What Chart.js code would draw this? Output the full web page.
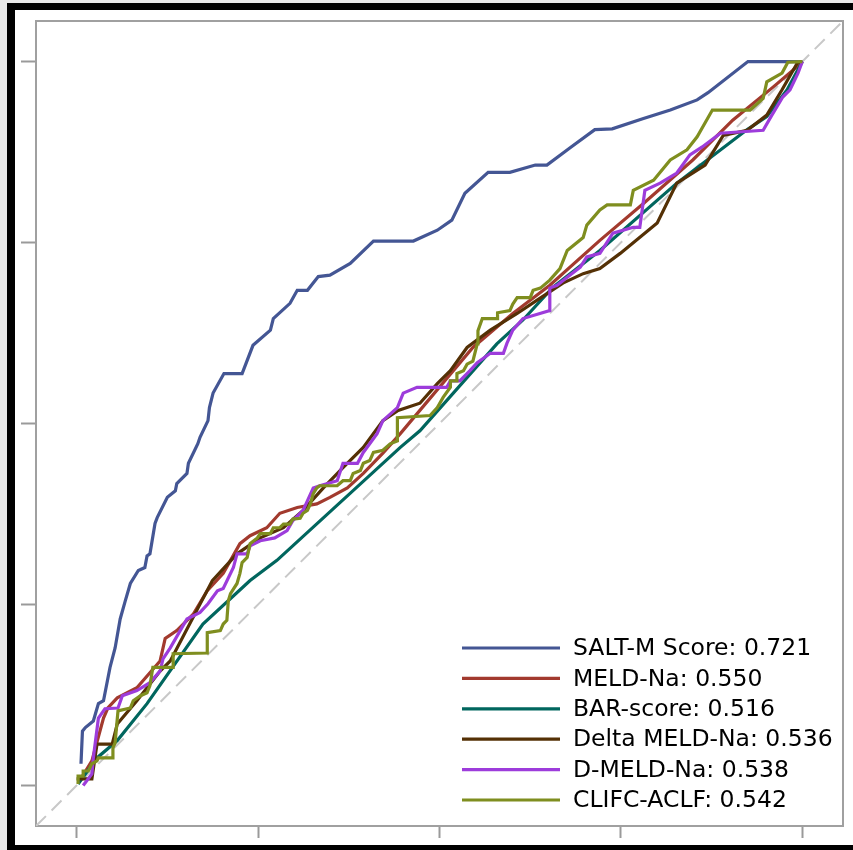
<!DOCTYPE html>
<html lang="en">
<head>
    <meta charset="UTF-8">
    <title>ROC curves</title>
    <script src="https://cdn.jsdelivr.net/npm/chart.js"></script>
    <style>
        html, body { margin: 0; padding: 0; background: #e8e8e8; overflow: hidden; }
        .frame {
            position: absolute; left: 7px; top: 3px;
            width: 900px; height: 835px;
            border-left: 8px solid #000; border-top: 7px solid #000; border-bottom: 7px solid #000;
            background: #fff;
        }
        #roc { position: absolute; left: 0; top: 0; }
    </style>
</head>
<body>
    <div class="frame"></div>
    <canvas id="roc" width="853" height="850"></canvas>

    <script>
        // ROC points as [1 - specificity, sensitivity]
        const saltM = [[0.006,0.030],[0.008,0.075],[0.012,0.080],[0.023,0.089],[0.030,0.113],[0.037,0.117],[0.046,0.163],[0.053,0.190],[0.060,0.230],[0.067,0.255],[0.074,0.279],[0.085,0.297],[0.094,0.301],[0.097,0.317],[0.101,0.320],[0.108,0.362],[0.111,0.370],[0.125,0.398],[0.136,0.407],[0.138,0.417],[0.152,0.431],[0.154,0.445],[0.167,0.472],[0.170,0.481],[0.181,0.504],[0.183,0.522],[0.188,0.542],[0.203,0.569],[0.228,0.569],[0.243,0.608],[0.267,0.629],[0.271,0.645],[0.294,0.666],[0.304,0.684],[0.318,0.684],[0.333,0.703],[0.349,0.705],[0.377,0.721],[0.409,0.752],[0.464,0.752],[0.497,0.767],[0.517,0.781],[0.535,0.818],[0.567,0.847],[0.597,0.847],[0.632,0.857],[0.648,0.857],[0.680,0.881],[0.714,0.906],[0.738,0.907],[0.780,0.921],[0.818,0.933],[0.855,0.947],[0.870,0.957],[0.925,1.0],[1.0,1.0]];
        const meldNa = [[0.002,0.003],[0.021,0.034],[0.037,0.093],[0.043,0.107],[0.056,0.121],[0.083,0.135],[0.115,0.172],[0.122,0.203],[0.138,0.214],[0.161,0.237],[0.180,0.269],[0.202,0.293],[0.225,0.334],[0.239,0.345],[0.262,0.356],[0.280,0.376],[0.304,0.384],[0.331,0.389],[0.349,0.398],[0.373,0.411],[0.395,0.431],[0.422,0.459],[0.446,0.486],[0.546,0.605],[0.601,0.652],[0.652,0.691],[0.721,0.753],[0.781,0.804],[0.849,0.864],[0.904,0.919],[0.960,0.965],[0.987,0.988],[1.0,1.0]];
        const barScore = [[0.002,0.002],[0.028,0.038],[0.056,0.062],[0.097,0.113],[0.174,0.223],[0.239,0.283],[0.276,0.311],[0.446,0.467],[0.473,0.490],[0.579,0.610],[0.615,0.643],[0.656,0.688],[0.721,0.739],[0.827,0.832],[0.924,0.906],[0.951,0.924],[0.979,0.961],[1.0,1.0]];
        const deltaMeld = [[0.0,0.009],[0.021,0.009],[0.028,0.057],[0.049,0.057],[0.056,0.085],[0.083,0.117],[0.115,0.158],[0.129,0.172],[0.187,0.283],[0.221,0.320],[0.253,0.342],[0.285,0.356],[0.312,0.380],[0.340,0.411],[0.367,0.439],[0.395,0.467],[0.422,0.504],[0.443,0.518],[0.473,0.528],[0.497,0.555],[0.515,0.573],[0.538,0.605],[0.570,0.629],[0.607,0.652],[0.634,0.670],[0.670,0.694],[0.698,0.707],[0.721,0.714],[0.749,0.735],[0.800,0.777],[0.827,0.832],[0.866,0.857],[0.891,0.898],[0.924,0.905],[0.951,0.926],[0.972,0.961],[0.993,0.998],[1.0,1.0]];
        const dMeld = [[0.009,0.0],[0.021,0.016],[0.023,0.038],[0.030,0.093],[0.039,0.106],[0.057,0.107],[0.063,0.124],[0.083,0.131],[0.101,0.142],[0.115,0.158],[0.119,0.175],[0.129,0.190],[0.152,0.230],[0.170,0.239],[0.181,0.251],[0.194,0.269],[0.202,0.272],[0.216,0.301],[0.221,0.320],[0.235,0.320],[0.239,0.331],[0.253,0.338],[0.273,0.342],[0.290,0.352],[0.298,0.366],[0.312,0.380],[0.326,0.411],[0.335,0.414],[0.359,0.421],[0.367,0.445],[0.387,0.445],[0.395,0.460],[0.414,0.486],[0.422,0.504],[0.442,0.522],[0.450,0.542],[0.469,0.550],[0.510,0.550],[0.515,0.559],[0.528,0.559],[0.542,0.573],[0.552,0.584],[0.570,0.597],[0.588,0.597],[0.593,0.611],[0.601,0.629],[0.615,0.645],[0.652,0.656],[0.652,0.687],[0.662,0.691],[0.676,0.702],[0.694,0.716],[0.703,0.730],[0.721,0.735],[0.739,0.763],[0.767,0.771],[0.776,0.771],[0.783,0.822],[0.804,0.832],[0.827,0.846],[0.845,0.871],[0.862,0.882],[0.887,0.901],[0.946,0.905],[0.958,0.926],[0.973,0.951],[0.983,0.961],[0.994,0.984],[1.0,1.0]];
        const clifcAclf = [[0.002,0.002],[0.002,0.013],[0.009,0.013],[0.009,0.020],[0.016,0.020],[0.021,0.030],[0.028,0.034],[0.030,0.038],[0.049,0.038],[0.050,0.052],[0.053,0.059],[0.057,0.103],[0.074,0.107],[0.078,0.117],[0.088,0.124],[0.097,0.128],[0.101,0.138],[0.105,0.163],[0.133,0.163],[0.133,0.182],[0.180,0.183],[0.180,0.211],[0.198,0.214],[0.202,0.223],[0.207,0.228],[0.209,0.255],[0.212,0.265],[0.221,0.279],[0.225,0.293],[0.228,0.308],[0.235,0.315],[0.239,0.334],[0.249,0.342],[0.253,0.348],[0.267,0.348],[0.271,0.356],[0.280,0.356],[0.285,0.361],[0.294,0.361],[0.298,0.368],[0.308,0.369],[0.312,0.376],[0.318,0.380],[0.322,0.389],[0.326,0.403],[0.331,0.411],[0.335,0.414],[0.359,0.414],[0.367,0.421],[0.377,0.421],[0.381,0.431],[0.391,0.435],[0.395,0.445],[0.404,0.449],[0.409,0.460],[0.422,0.463],[0.432,0.472],[0.442,0.476],[0.442,0.508],[0.487,0.511],[0.497,0.522],[0.505,0.536],[0.515,0.550],[0.515,0.559],[0.524,0.559],[0.524,0.569],[0.533,0.573],[0.538,0.582],[0.546,0.586],[0.552,0.610],[0.553,0.628],[0.559,0.645],[0.580,0.645],[0.580,0.653],[0.597,0.656],[0.601,0.665],[0.607,0.674],[0.625,0.674],[0.629,0.684],[0.639,0.687],[0.652,0.698],[0.666,0.714],[0.676,0.739],[0.698,0.757],[0.703,0.774],[0.721,0.795],[0.731,0.802],[0.763,0.802],[0.767,0.822],[0.795,0.836],[0.818,0.864],[0.841,0.878],[0.855,0.896],[0.876,0.933],[0.928,0.933],[0.946,0.949],[0.951,0.972],[0.972,0.984],[0.980,0.999],[1.0,1.0]];

        const seriesNames = ['SALT-M Score', 'MELD-Na', 'BAR-score', 'Delta MELD-Na', 'D-MELD-Na', 'CLIFC-ACLF'];
        const aucValues = ['0.721', '0.550', '0.516', '0.536', '0.538', '0.542'];
        const seriesColors = ['#445694', '#A23A2E', '#01665E', '#543005', '#9D3CDB', '#7F8E1F'];
        const seriesPoints = [saltM, meldNa, barScore, deltaMeld, dMeld, clifcAclf];
        const tickValues = [0, 0.25, 0.5, 0.75, 1];
        const axisMin = -0.056, axisMax = 1.056;

        const datasets = seriesPoints.map((pts, i) => ({
            label: seriesNames[i] + ': ' + aucValues[i],
            data: pts.map(p => ({ x: p[0], y: p[1] })),
            borderColor: seriesColors[i],
            borderWidth: 3.2,
            pointRadius: 0,
            tension: 0,
            order: seriesPoints.length - i,
            inLegend: true
        }));
        // reference diagonal
        datasets.push({
            label: 'diag',
            data: [{ x: axisMin, y: axisMin }, { x: axisMax, y: axisMax }],
            borderColor: '#c8c8c8',
            borderWidth: 2,
            borderDash: [14, 8],
            pointRadius: 0,
            order: 20,
            inLegend: false
        });

        // grey box round the plot area
        const framePlugin = {
            id: 'frame',
            beforeDatasetsDraw(chart) {
                const { ctx, chartArea: a } = chart;
                ctx.save();
                ctx.strokeStyle = '#a0a0a0';
                ctx.lineWidth = 2;
                ctx.strokeRect(a.left, a.top, a.right - a.left, a.bottom - a.top);
                ctx.restore();
            }
        };

        // legend inside the plot, lower right
        const insideLegend = {
            id: 'insideLegend',
            afterDraw(chart) {
                const ctx = chart.ctx;
                const items = chart.data.datasets.filter(d => d.inLegend);
                ctx.save();
                ctx.font = '23.5px "DejaVu Sans"';
                ctx.textBaseline = 'middle';
                items.forEach((d, i) => {
                    const y = 648 + i * 30.4;
                    ctx.strokeStyle = d.borderColor;
                    ctx.lineWidth = 3.2;
                    ctx.beginPath();
                    ctx.moveTo(462, y);
                    ctx.lineTo(560, y);
                    ctx.stroke();
                    ctx.fillStyle = '#000';
                    ctx.fillText(d.label, 573, y + 1);
                });
                ctx.restore();
            }
        };

        const axisOpts = (len) => ({
            type: 'linear',
            min: axisMin,
            max: axisMax,
            afterBuildTicks: s => { s.ticks = tickValues.map(v => ({ value: v })); },
            ticks: { display: false },
            grid: { drawOnChartArea: false, drawTicks: true, tickLength: len, tickColor: '#9a9a9a', tickWidth: 2 },
            border: { display: false }
        });

        new Chart(document.getElementById('roc'), {
            type: 'line',
            data: { datasets: datasets },
            options: {
                responsive: false,
                animation: false,
                layout: { padding: { left: 21, top: 21, right: 10, bottom: 12 } },
                plugins: { legend: { display: false }, tooltip: { enabled: false } },
                scales: { x: axisOpts(12), y: axisOpts(15) }
            },
            plugins: [framePlugin, insideLegend]
        });
    </script>
</body>
</html>
